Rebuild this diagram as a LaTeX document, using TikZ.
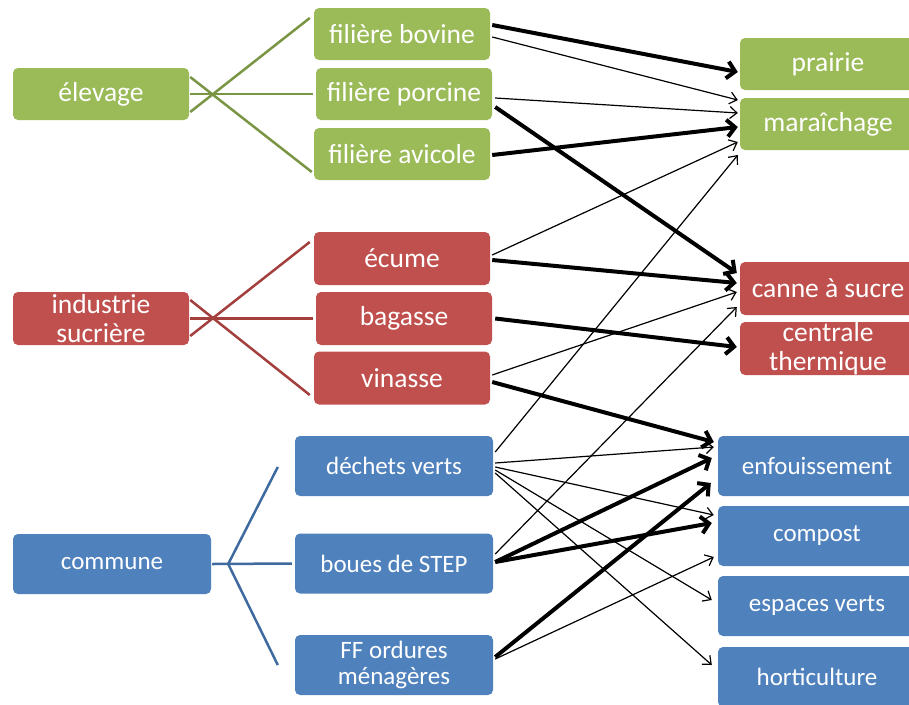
\documentclass[tikz,border=0pt]{standalone}
\usepackage{fontspec}
\setmainfont{Carlito}
\usetikzlibrary{arrows.meta,calc}
\definecolor{gfill}{HTML}{9BBB59}
\definecolor{rfill}{HTML}{C0504D}
\definecolor{bfill}{HTML}{4F81BD}
\definecolor{gline}{HTML}{7A9645}
\definecolor{rline}{HTML}{A33F3C}
\definecolor{bline}{HTML}{3E6A9F}
\begin{document}
\begin{tikzpicture}[x=1pt,y=-1pt,
  box/.style={rounded corners=5pt, inner sep=0pt, text=white, align=center},
  gbox/.style={box, fill=gfill, minimum width=176pt, minimum height=52pt, font=\fontsize{27.5}{29}\selectfont},
  rbox/.style={box, fill=rfill, minimum width=176pt, minimum height=53pt, font=\fontsize{27.5}{29}\selectfont},
  bbox/.style={box, fill=bfill, minimum width=198pt, minimum height=60pt, font=\fontsize{25}{26}\selectfont},
  glink/.style={draw=gline, line width=2.5pt},
  rlink/.style={draw=rline, line width=2.5pt},
  blink/.style={draw=bline, line width=2.5pt},
  thinarr/.style={line width=1.2pt, -{Straight Barb[length=7pt,width=12pt]}},
  thickarr/.style={line width=4pt, -{Straight Barb[length=8pt,width=17pt]}}
]
\useasboundingbox (0,0) rectangle (909,704);
% left column
\node[gbox] (elev) at (101,94) {élevage};
\node[rbox] (indus) at (101,318.5) {industrie\\sucrière};
\node[bbox] (commune) at (112,564) {commune};
% middle column
\node[gbox] (bov) at (402,34) {filière bovine};
\node[gbox] (porc) at (404,94) {filière porcine};
\node[gbox] (avic) at (402,154) {filière avicole};
\node[rbox] (ecume) at (402,258.5) {écume};
\node[rbox] (bagasse) at (404,318.5) {bagasse};
\node[rbox] (vinasse) at (402,378) {vinasse};
\node[bbox] (dechets) at (394,466) {déchets verts};
\node[bbox] (boues) at (394,563.5) {boues de STEP};
\node[bbox] (ff) at (394,665) {FF ordures\\ménagères};
% right column
\node[gbox] (prai) at (828,64) {prairie};
\node[gbox] (mara) at (828,124) {maraîchage};
\node[rbox] (canne) at (828,288.5) {canne à sucre};
\node[rbox] (centrale) at (828,348.5) {centrale\\thermique};
\node[bbox] (enf) at (817,466) {enfouissement};
\node[bbox] (compost) at (817,536) {compost};
\node[bbox] (espaces) at (817,606) {espaces verts};
\node[bbox] (horti) at (817,677) {horticulture};
% group links
\draw[glink] ($(elev.east)+(1,-17)$) -- ($(avic.west)+(-2,18)$);
\draw[glink] ($(elev.east)+(1,18)$) -- ($(bov.west)+(-4,-16)$);
\draw[glink] ($(elev.east)+(1,0)$) -- ($(porc.west)+(-3,0)$);
\draw[rlink] ($(indus.east)+(1,-18.5)$) -- ($(vinasse.west)+(-4,17)$);
\draw[rlink] ($(indus.east)+(1,17.5)$) -- ($(ecume.west)+(-4,-16.5)$);
\draw[rlink] ($(indus.east)+(1,0)$) -- ($(bagasse.west)+(-3,0)$);
\coordinate (fork) at ($(commune.east)+(17,0)$);
\coordinate (ftop) at ($(dechets.west)+(-17,1)$);
\coordinate (fbot) at ($(ff.west)+(-17,0)$);
\draw[blink] ($(commune.east)+(1,0)$) -- ($(boues.west)+(-3,0)$);
\draw[blink] (ftop) -- (fork) -- (fbot);
% flows
\draw[thickarr] ($(bov.east)+(2,-9)$) -- ($(prai.west)+(-2,8)$);
\draw[thinarr] ($(bov.east)+(2,3)$) -- ($(mara.west)+(-2,-24)$);
\draw[thinarr] ($(porc.east)+(3,4)$) -- ($(mara.west)+(-2,-11)$);
\draw[thickarr] ($(porc.east)+(3,13)$) -- ($(canne.west)+(-3,-15.5)$);
\draw[thickarr] ($(avic.east)+(2,1)$) -- ($(mara.west)+(-2,3)$);
\draw[thinarr] ($(ecume.east)+(2,-3.5)$) -- ($(mara.west)+(-2,18)$);
\draw[thickarr] ($(ecume.east)+(2,1.5)$) -- ($(canne.west)+(-3,-5.5)$);
\draw[thickarr] ($(bagasse.east)+(3,0)$) -- ($(centrale.west)+(-3,-1.5)$);
\draw[thinarr] ($(vinasse.east)+(2,-3)$) -- ($(canne.west)+(-3,3.5)$);
\draw[thickarr] ($(vinasse.east)+(2,4)$) -- ($(enf.west)+(-4,-24)$);
\draw[thinarr] ($(dechets.east)+(2,-14)$) -- ($(mara.west)+(-2,31)$);
\draw[thinarr] ($(dechets.east)+(2,-3)$) -- ($(enf.west)+(-4,-19)$);
\draw[thinarr] ($(dechets.east)+(2,1)$) -- ($(compost.west)+(-4,-21)$);
\draw[thinarr] ($(dechets.east)+(2,4)$) -- ($(espaces.west)+(-6,-6)$);
\draw[thinarr] ($(dechets.east)+(2,7)$) -- ($(horti.west)+(-6,-12)$);
\draw[thinarr] ($(boues.east)+(2,-9.5)$) -- ($(canne.west)+(-3,18.5)$);
\draw[thickarr] ($(boues.east)+(2,-1.5)$) -- ($(enf.west)+(-6,-8)$);
\draw[thickarr] ($(boues.east)+(2,-1.5)$) -- ($(compost.west)+(-6,-13)$);
\draw[thickarr] ($(ff.east)+(2,-8)$) -- ($(enf.west)+(-7,17)$);
\draw[thinarr] ($(ff.east)+(2,-6)$) -- ($(compost.west)+(-4,21)$);
\end{tikzpicture}
\end{document}
